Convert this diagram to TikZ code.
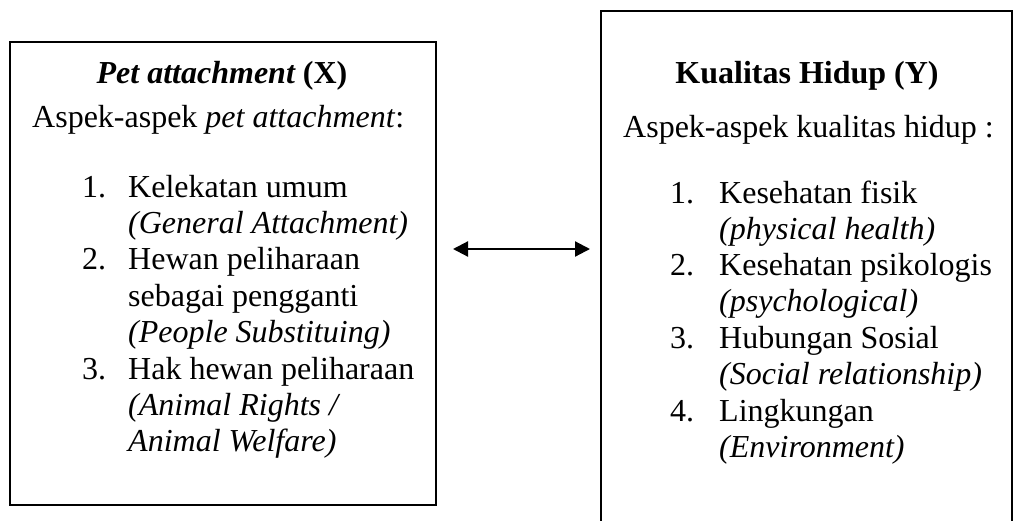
\documentclass[tikz,border=0pt]{standalone}
\usepackage{fontspec}
\setmainfont{Liberation Serif}
\usetikzlibrary{arrows.meta}
\begin{document}
\begin{tikzpicture}[x=1pt,y=-1pt,
  box/.style={draw, line width=2.2pt, inner sep=0pt, outer sep=0pt},
  txt/.style={anchor=base west, inner sep=0pt, font=\fontsize{32}{36}\selectfont},
  ttl/.style={anchor=base, inner sep=0pt, font=\fontsize{32}{36}\selectfont\bfseries},
  conn/.style={line width=2.2pt, {Triangle[length=15pt,width=15pt]}-{Triangle[length=15pt,width=15pt]}}]
\useasboundingbox (0,0) rectangle (1014,520);
\begin{scope}
\clip (0,0) rectangle (1014,520);
% boxes
\node[box, minimum width=426pt, minimum height=463pt] (boxX) at (223,273.5) {};
\node[box, minimum width=411pt, minimum height=524pt] (boxY) at (806.5,273) {};
\end{scope}

% left box text
\node[ttl] (tX) at (222,83) {\itshape Pet attachment\upshape{} (X)};
\node[txt] (aX) at (32,127) {Aspek-aspek \textit{pet attachment}:};
\node[txt] (nX1) at (82,197) {1.};
\node[txt] (lX1a) at (128,197) {Kelekatan umum};
\node[txt] (lX1b) at (128,233.4) {\itshape (General Attachment)};
\node[txt] (nX2) at (82,269.8) {2.};
\node[txt] (lX2a) at (128,269.8) {Hewan peliharaan};
\node[txt] (lX2b) at (128,306.2) {sebagai pengganti};
\node[txt] (lX2c) at (128,342.6) {\itshape (People Substituing)};
\node[txt] (nX3) at (82,379) {3.};
\node[txt] (lX3a) at (128,379) {Hak hewan peliharaan};
\node[txt] (lX3b) at (128,415.4) {\itshape (Animal Rights /};
\node[txt] (lX3c) at (128,451.8) {\itshape Animal Welfare)};

% right box text
\node[ttl] (tY) at (807,83) {Kualitas Hidup (Y)};
\node[txt] (aY) at (623,137) {Aspek-aspek kualitas hidup :};
\node[txt] (nY1) at (670,203) {1.};
\node[txt] (lY1a) at (719,203) {Kesehatan fisik};
\node[txt] (lY1b) at (719,239) {\itshape (physical health)};
\node[txt] (nY2) at (670,275) {2.};
\node[txt] (lY2a) at (719,275) {Kesehatan psikologis};
\node[txt] (lY2b) at (719,311) {\itshape (psychological)};
\node[txt] (nY3) at (670,348) {3.};
\node[txt] (lY3a) at (719,348) {Hubungan Sosial};
\node[txt] (lY3b) at (719,384) {\itshape (Social relationship)};
\node[txt] (nY4) at (670,421) {4.};
\node[txt] (lY4a) at (719,421) {Lingkungan};
\node[txt] (lY4b) at (719,457) {\itshape (Environment)};

% connector
\coordinate (aL) at (453,249);
\coordinate (aR) at (590,249);
\draw[conn] (aL) -- (aR);
\end{tikzpicture}
\end{document}
